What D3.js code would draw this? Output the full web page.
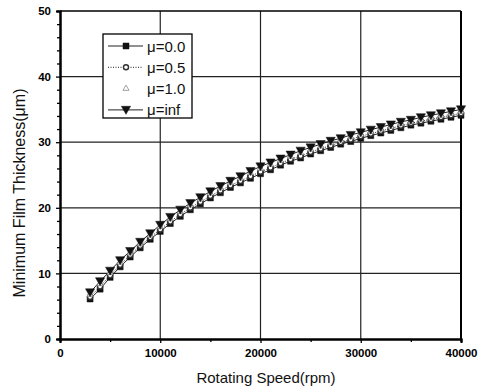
<!DOCTYPE html>
<html>
<head>
<meta charset="utf-8">
<script src="https://cdn.jsdelivr.net/npm/d3@7"></script>
<style>
  body { margin: 0; background: #fff; }
  svg { display: block; font-family: Arial, "Liberation Sans", sans-serif; }
</style>
</head>
<body>
<div id="chart"></div>
<script>
const rpm = [3000, 4000, 5000, 6000, 7000, 8000, 9000, 10000, 11000, 12000,
  13000, 14000, 15000, 16000, 17000, 18000, 19000, 20000, 21000, 22000,
  23000, 24000, 25000, 26000, 27000, 28000, 29000, 30000, 31000, 32000,
  33000, 34000, 35000, 36000, 37000, 38000, 39000, 40000]

const mu00 = [6.1, 7.6, 9.4, 11.0, 12.5, 13.9, 15.2, 16.4, 17.6, 18.7,
  19.7, 20.6, 21.5, 22.3, 23.1, 23.8, 24.5, 25.2, 25.8, 26.5,
  27.1, 27.6, 28.2, 28.7, 29.2, 29.7, 30.1, 30.6, 31.0, 31.4,
  31.8, 32.2, 32.6, 32.9, 33.2, 33.5, 33.8, 34.1]
const mu05 = [6.4, 8.0, 9.7, 11.3, 12.8, 14.2, 15.5, 16.7, 17.9, 19.0,
  20.0, 20.9, 21.8, 22.6, 23.4, 24.1, 24.8, 25.5, 26.1, 26.8,
  27.4, 27.9, 28.5, 29.0, 29.5, 30.0, 30.4, 30.9, 31.3, 31.7,
  32.1, 32.5, 32.9, 33.2, 33.5, 33.8, 34.1, 34.4]
const mu10 = [6.8, 8.4, 10.1, 11.7, 13.1, 14.5, 15.8, 17.1, 18.3, 19.4,
  20.4, 21.3, 22.2, 23.0, 23.8, 24.5, 25.3, 26.0, 26.6, 27.2,
  27.8, 28.4, 28.9, 29.4, 29.9, 30.3, 30.8, 31.2, 31.6, 32.0,
  32.4, 32.8, 33.1, 33.5, 33.8, 34.1, 34.4, 34.7]
const muInf = [7.1, 8.8, 10.4, 12.0, 13.4, 14.8, 16.1, 17.4, 18.6, 19.7,
  20.7, 21.6, 22.5, 23.3, 24.1, 24.8, 25.6, 26.3, 26.9, 27.5,
  28.1, 28.7, 29.2, 29.7, 30.2, 30.6, 31.1, 31.5, 31.9, 32.3,
  32.7, 33.1, 33.4, 33.8, 34.1, 34.4, 34.7, 35.0]

const xTicks = [0, 10000, 20000, 30000, 40000]
const yTicks = [0, 10, 20, 30, 40, 50]
const labels = ['\u03bc=0.0', '\u03bc=0.5', '\u03bc=1.0', '\u03bc=inf']

const width = 487, height = 387
const margin = { top: 11, right: 26, bottom: 48, left: 60 }
const innerW = width - margin.left - margin.right
const innerH = height - margin.top - margin.bottom

const svg = d3.select('#chart').append('svg')
  .attr('width', width).attr('height', height)
const g = svg.append('g').attr('transform', `translate(${margin.left},${margin.top})`)

const x = d3.scaleLinear().domain([0, 40000]).range([0, innerW])
const y = d3.scaleLinear().domain([0, 50]).range([innerH, 0])

// grid
g.append('g').selectAll('line').data(yTicks.slice(1, -1)).join('line')
  .attr('x1', 0).attr('x2', innerW)
  .attr('y1', d => y(d)).attr('y2', d => y(d))
  .attr('stroke', '#222').attr('stroke-width', 1.2)
g.append('g').selectAll('line').data(xTicks.slice(1, -1)).join('line')
  .attr('x1', d => x(d)).attr('x2', d => x(d))
  .attr('y1', 0).attr('y2', innerH)
  .attr('stroke', '#222').attr('stroke-width', 1.2)

// axes
const xAxis = g.append('g').attr('transform', `translate(0,${innerH})`)
  .call(d3.axisBottom(x).tickValues(xTicks).tickSize(4).tickPadding(6).tickFormat(d3.format('d')))
const xMinor = g.append('g').attr('transform', `translate(0,${innerH})`)
  .call(d3.axisBottom(x).tickValues([5000, 15000, 25000, 35000]).tickSize(3).tickFormat(''))
const yAxis = g.append('g')
  .call(d3.axisLeft(y).tickValues(yTicks).tickSize(4).tickPadding(5))
const yMinor = g.append('g')
  .call(d3.axisLeft(y).tickValues(d3.range(2, 50, 2).filter(v => v % 10 !== 0)).tickSize(3).tickFormat(''))

;[xAxis, xMinor, yAxis, yMinor].forEach(a => {
  a.select('.domain').attr('stroke', '#000').attr('stroke-width', 2)
  a.selectAll('.tick line').attr('stroke', '#000').attr('stroke-width', 1.3)
  a.selectAll('.tick text').attr('fill', '#000')
    .attr('font-size', '11.5px').attr('font-weight', 'bold')
})

// frame top/right
g.append('line').attr('x1', 0).attr('x2', innerW).attr('y1', 0).attr('y2', 0)
  .attr('stroke', '#000').attr('stroke-width', 1.5)
g.append('line').attr('x1', innerW).attr('x2', innerW).attr('y1', 0).attr('y2', innerH)
  .attr('stroke', '#000').attr('stroke-width', 2)

// titles
svg.append('text')
  .attr('x', 266).attr('y', 383)
  .attr('text-anchor', 'middle').attr('font-size', '15px').attr('fill', '#111')
  .text('Rotating Speed(rpm)')
svg.append('text')
  .attr('transform', `translate(25,${margin.top + innerH / 2 + 18}) rotate(-90)`)
  .attr('text-anchor', 'middle').attr('font-size', '16px').attr('fill', '#111')
  .text('Minimum Film Thickness(\u03bcm)')

const line = d3.line().x((d, i) => x(rpm[i])).y(d => y(d))
const sym = (type, size) => d3.symbol().type(type).size(size)()
const triDown = `M-4.6,-3.6L4.6,-3.6L0,4.4Z`

const series = [
  { values: mu00, dash: null, marker: sym(d3.symbolSquare, 36), fill: '#111', stroke: '#111', sw: 0.5 },
  { values: mu05, dash: '1,1.5', marker: sym(d3.symbolCircle, 20), fill: '#fff', stroke: '#333', sw: 1.4 },
  { values: mu10, dash: null, noLine: true, marker: sym(d3.symbolTriangle, 16), fill: '#fff', stroke: '#888', sw: 0.8 },
  { values: muInf, dash: null, marker: triDown, fill: '#111', stroke: '#111', sw: 0.5 }
]

series.forEach(s => {
  if (!s.noLine) {
    g.append('path').datum(s.values)
      .attr('fill', 'none').attr('stroke', '#222').attr('stroke-width', 1)
      .attr('stroke-dasharray', s.dash)
      .attr('d', line)
  }
})
series.forEach(s => {
  g.append('g').selectAll('path').data(s.values).join('path')
    .attr('transform', (d, i) => `translate(${x(rpm[i])},${y(d)})`)
    .attr('d', s.marker)
    .attr('fill', s.fill).attr('stroke', s.stroke).attr('stroke-width', s.sw)
})

// legend
const lg = svg.append('g').attr('transform', 'translate(103,34)')
lg.append('rect').attr('width', 89).attr('height', 84)
  .attr('fill', '#fff').attr('stroke', '#000').attr('stroke-width', 1.3)
series.forEach((s, i) => {
  const ry = 12 + i * 21.3
  if (!s.noLine) {
    lg.append('line').attr('x1', 5).attr('x2', 40).attr('y1', ry).attr('y2', ry)
      .attr('stroke', '#222').attr('stroke-width', 1).attr('stroke-dasharray', s.dash)
  }
  lg.append('path').attr('transform', `translate(23,${ry})`).attr('d', s.marker)
    .attr('fill', s.fill).attr('stroke', s.stroke).attr('stroke-width', s.sw)
  lg.append('text').attr('x', 44).attr('y', ry + 5.5)
    .attr('font-size', '15px').attr('fill', '#111')
    .text(labels[i])
})
</script>
</body>
</html>
